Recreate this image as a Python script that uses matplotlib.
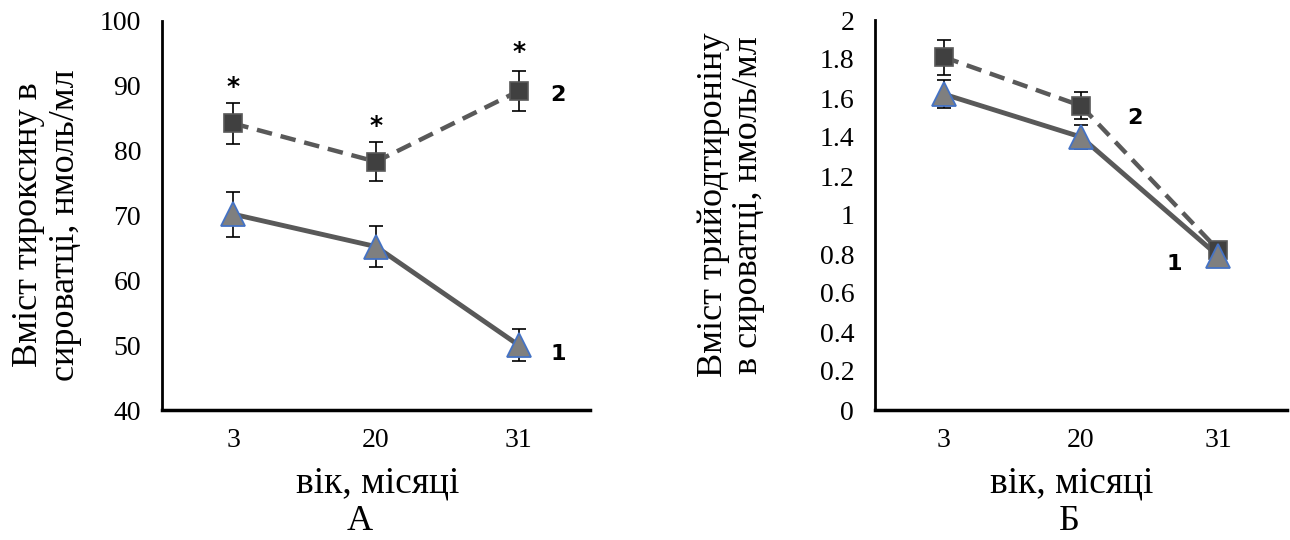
# Вміст тироксину (А) і трийодтироніну (Б) у сироватці за віком
import matplotlib.pyplot as plt

plt.rcParams['font.family'] = ['Liberation Serif', 'DejaVu Serif']

vik = ['3', '20', '31']

# А: тироксин, нмоль/мл
t4_1 = [70.2, 65.2, 50.0]
t4_1_err = [3.5, 3.2, 2.5]
t4_2 = [84.2, 78.3, 89.2]
t4_2_err = [3.2, 3.0, 3.1]
t4_zirky = [89.8, 83.8, 95.2]

# Б: трийодтиронін, нмоль/мл
t3_1 = [1.62, 1.40, 0.79]
t3_1_err = [0.07, 0.06, 0.0]
t3_2 = [1.81, 1.56, 0.82]
t3_2_err = [0.09, 0.07, 0.0]

W, H = 1290, 540
fig = plt.figure(figsize=(W / 100, H / 100), dpi=100)

ax1 = fig.add_axes([162 / W, 1 - 410 / H, 428 / W, 389 / H])
ax2 = fig.add_axes([875 / W, 1 - 410 / H, 412 / W, 390 / H])

x = range(len(vik))

def draw(ax, y1, e1, y2, e2):
    # серія 2 (пунктир, квадрати)
    ax.plot(x, y2, ls=(0, (3.5, 2)), color='#595959', lw=3.2, zorder=2)
    ax.errorbar(x, y2, yerr=e2, fmt='none', ecolor='black', elinewidth=1.2,
                capsize=5, capthick=1.2, zorder=3)
    ax.plot(x, y2, ls='none', marker='s', ms=13, mfc='#404040',
            mec='#595959', mew=1.2, zorder=4)
    # серія 1 (суцільна, трикутники)
    ax.plot(x, y1, ls='-', color='#595959', lw=3.5, zorder=2)
    ax.errorbar(x, y1, yerr=e1, fmt='none', ecolor='black', elinewidth=1.2,
                capsize=5, capthick=1.2, zorder=3)
    ax.plot(x, y1, ls='none', marker='^', ms=17, mfc='#7f7f7f',
            mec='#4472c4', mew=1.3, zorder=4)

    ax.set_xlim(-0.5, 2.5)
    ax.set_xticks(list(x))
    ax.set_xticklabels(vik)
    ax.spines['top'].set_visible(False)
    ax.spines['right'].set_visible(False)
    ax.spines['left'].set_linewidth(2)
    ax.spines['bottom'].set_linewidth(2.5)
    ax.tick_params(length=0, labelsize=20)
    ax.tick_params(axis='y', pad=15)
    ax.tick_params(axis='x', pad=13)

draw(ax1, t4_1, t4_1_err, t4_2, t4_2_err)
ax1.set_ylim(40, 100)
ax1.set_yticks(range(40, 101, 10))
for i, z in enumerate(t4_zirky):
    ax1.text(i, z, '*', fontsize=18, fontweight='bold', ha='center', va='center',
             family='DejaVu Sans')
ax1.text(2.22, 88.6, '2', fontsize=16, fontweight='bold', ha='left', va='center',
         family='DejaVu Sans')
ax1.text(2.22, 48.6, '1', fontsize=16, fontweight='bold', ha='left', va='center',
         family='DejaVu Sans')

draw(ax2, t3_1, t3_1_err, t3_2, t3_2_err)
ax2.set_ylim(0, 2)
ax2.set_yticks([0, 0.2, 0.4, 0.6, 0.8, 1, 1.2, 1.4, 1.6, 1.8, 2])
ax2.set_yticklabels(['0', '0.2', '0.4', '0.6', '0.8', '1', '1.2', '1.4', '1.6', '1.8', '2'])
ax2.text(1.34, 1.50, '2', fontsize=16, fontweight='bold', ha='left', va='center',
         family='DejaVu Sans')
ax2.text(1.62, 0.75, '1', fontsize=16, fontweight='bold', ha='left', va='center',
         family='DejaVu Sans')

fig.text(47 / W, 1 - 225 / H, 'Вміст тироксину в\nсироватці, нмоль/мл',
         rotation=90, fontsize=26, ha='center', va='center', linespacing=1.15)
fig.text(731 / W, 1 - 205 / H, 'Вміст трийодтироніну\nв сироватці, нмоль/мл',
         rotation=90, fontsize=26, ha='center', va='center', linespacing=1.1)

fig.text(378 / W, 1 - 493 / H, 'вік, місяці', fontsize=27, ha='center', va='baseline')
fig.text(1072 / W, 1 - 493 / H, 'вік, місяці', fontsize=27, ha='center', va='baseline')
fig.text(360 / W, 1 - 530 / H, 'А', fontsize=26, ha='center', va='baseline')
fig.text(1069 / W, 1 - 530 / H, 'Б', fontsize=26, ha='center', va='baseline')

fig.savefig('out.png', dpi=100)
